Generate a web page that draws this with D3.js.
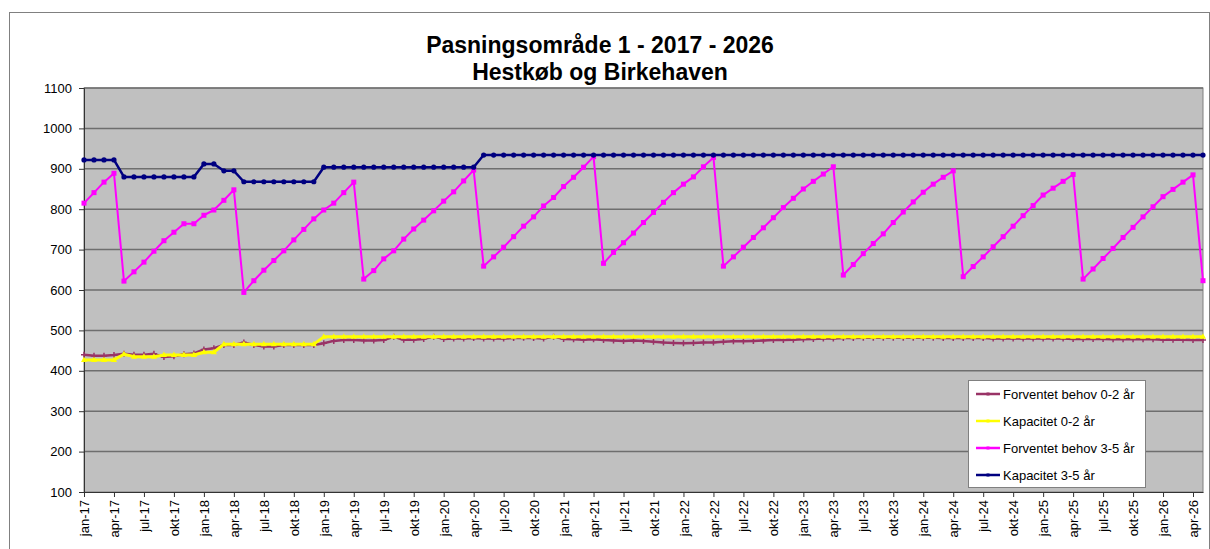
<!DOCTYPE html>
<html>
<head>
<meta charset="utf-8">
<script src="https://cdn.jsdelivr.net/npm/d3@7"></script>
<style>
  body { margin: 0; background: #fff; }
  svg { font-family: Arial, "Liberation Sans", sans-serif; }
</style>
</head>
<body>
<div id="chart"></div>
<script>
// month names used for category labels
var monthNames = ["jan","feb","mar","apr","maj","jun","jul","aug","sep","okt","nov","dec"];
var years = [17,18,19,20,21,22,23,24,25,26];

// categories jan-17 .. maj-26
var months = [];
years.forEach(function(y) {
  monthNames.forEach(function(m, i) {
    if (y < 26 || i < 5) months.push(m + "-" + y);
  });
});

var yTicks = [100,200,300,400,500,600,700,800,900,1000,1100];

// Forventet behov 0-2 år
var behov02 = [
  440,437,437,439,442,440,440,442,434,436,441,443,
  453,456,464,464,470,464,460,460,464,464,464,464,
  468,474,476,476,475,475,476,484,477,477,479,484,
  479,480,480,481,480,480,480,481,482,481,480,484,
  479,478,477,478,476,475,474,475,474,472,470,469,
  468,469,470,470,472,473,473,474,475,476,476,477,
  478,479,480,480,481,481,482,482,482,482,482,482,
  482,482,481,481,481,481,481,480,480,480,480,480,
  480,480,480,479,479,479,479,478,478,478,478,478,
  477,477,477,476,476
];

// Kapacitet 0-2 år
var kap02 = [
  427,427,427,427,441,435,435,435,439,439,439,439,
  446,446,466,466,466,466,466,466,466,466,466,466,
  484,484,484,484,484,484,484,484,484,484,484,484,
  484,484,484,484,484,484,484,484,484,484,484,484,
  484,484,484,484,484,484,484,484,484,484,484,484,
  484,484,484,484,484,484,484,484,484,484,484,484,
  484,484,484,484,484,484,484,484,484,484,484,484,
  484,484,484,484,484,484,484,484,484,484,484,484,
  484,484,484,484,484,484,484,484,484,484,484,484,
  484,484,484,484,484
];

// Forventet behov 3-5 år
var behov35 = [
  815,841,867,889,622,645,669,696,722,743,764,764,
  785,798,822,848,594,623,649,673,697,724,750,776,
  798,815,841,867,627,648,677,697,726,751,773,796,
  820,843,870,897,659,682,706,732,758,781,808,829,
  856,879,904,930,666,693,717,741,767,792,817,841,
  862,880,905,928,659,682,706,730,754,779,804,827,
  850,869,887,905,637,663,690,715,739,767,793,818,
  842,862,879,895,633,658,682,707,732,758,784,809,
  835,852,869,886,627,652,678,703,730,755,781,806,
  831,849,867,885,623
];

// Kapacitet 3-5 år
var kap35 = [
  922,922,922,922,880,880,880,880,880,880,880,880,
  912,912,895,895,868,868,868,868,868,868,868,868,
  904,904,904,904,904,904,904,904,904,904,904,904,
  904,904,904,904,934,934,934,934,934,934,934,934,
  934,934,934,934,934,934,934,934,934,934,934,934,
  934,934,934,934,934,934,934,934,934,934,934,934,
  934,934,934,934,934,934,934,934,934,934,934,934,
  934,934,934,934,934,934,934,934,934,934,934,934,
  934,934,934,934,934,934,934,934,934,934,934,934,
  934,934,934,934,934
];

var seriesNames = ["Forventet behov 0-2 år","Kapacitet 0-2 år","Forventet behov 3-5 år","Kapacitet 3-5 år"];

var svgWidth = 1210;
var svgHeight = 549;

var plot = { left: 84, top: 88, right: 1203, bottom: 492 };

var svg = d3.select("#chart")
  .append("svg")
  .attr("width", svgWidth)
  .attr("height", svgHeight);

// outer chart frame
svg.append("rect")
  .attr("x", 9.5).attr("y", 12.5)
  .attr("width", 1200).attr("height", 540)
  .attr("fill", "#fff")
  .attr("stroke", "#808080")
  .attr("stroke-width", 1);

// title
svg.append("text")
  .attr("x", 600).attr("y", 53)
  .attr("text-anchor", "middle")
  .attr("font-size", 23).attr("font-weight", "bold")
  .text("Pasningsområde 1 - 2017 - 2026");
svg.append("text")
  .attr("x", 600).attr("y", 80)
  .attr("text-anchor", "middle")
  .attr("font-size", 23).attr("font-weight", "bold")
  .text("Hestkøb og Birkehaven");

// scales
var xScale = d3.scalePoint()
  .domain(months)
  .range([plot.left, plot.right]);

var yScale = d3.scaleLinear()
  .domain([100, 1100])
  .range([plot.bottom, plot.top]);

// plot background
svg.append("rect")
  .attr("x", plot.left).attr("y", plot.top)
  .attr("width", plot.right - plot.left)
  .attr("height", plot.bottom - plot.top)
  .attr("fill", "#c0c0c0")
  .attr("stroke", "#808080")
  .attr("stroke-width", 1);

// gridlines
svg.append("g")
  .selectAll("line")
  .data(yTicks.slice(1))
  .enter()
  .append("line")
  .attr("x1", plot.left).attr("x2", plot.right)
  .attr("y1", d => yScale(d)).attr("y2", d => yScale(d))
  .attr("stroke", "#6e6e6e")
  .attr("stroke-width", 1.5);

// y axis
var leftAxis = d3.axisLeft(yScale)
  .tickValues(yTicks)
  .tickSize(5)
  .tickPadding(7)
  .tickFormat(d3.format("d"));

var yAxisG = svg.append("g")
  .attr("transform", `translate(${plot.left}, 0)`)
  .call(leftAxis);
yAxisG.selectAll("text").attr("font-size", 13).attr("fill", "#000").attr("font-family", "Arial, 'Liberation Sans', sans-serif");
yAxisG.selectAll("line, path").attr("stroke", "#333");

// x axis, label every 3rd month
var tickMonths = months.filter((m, i) => i % 3 === 0 && i < months.length - 1);
var bottomAxis = d3.axisBottom(xScale)
  .tickValues(tickMonths)
  .tickSize(5)
  .tickSizeOuter(0);

var xAxisG = svg.append("g")
  .attr("transform", `translate(0, ${plot.bottom})`)
  .call(bottomAxis);
xAxisG.selectAll("line, path").attr("stroke", "#333");
xAxisG.selectAll("text")
  .attr("font-size", 13)
  .attr("fill", "#000")
  .attr("font-family", "Arial, 'Liberation Sans', sans-serif")
  .attr("text-anchor", "end")
  .attr("transform", "rotate(-90)")
  .attr("x", -8)
  .attr("y", 0)
  .attr("dy", "0.35em");

var line = d3.line()
  .x((d, i) => xScale(months[i]))
  .y(d => yScale(d));

function drawSeries(values, color, width, marker) {
  var g = svg.append("g");
  g.append("path")
    .datum(values)
    .attr("d", line)
    .attr("fill", "none")
    .attr("stroke", color)
    .attr("stroke-width", width)
    .attr("stroke-linejoin", "round");
  marker(g.selectAll(null).data(values).enter(), color);
}

function circleMarker(sel, color) {
  sel.append("circle")
    .attr("cx", (d, i) => xScale(months[i]))
    .attr("cy", d => yScale(d))
    .attr("r", 2.6)
    .attr("fill", color);
}
function squareMarker(sel, color) {
  sel.append("rect")
    .attr("x", (d, i) => xScale(months[i]) - 2.5)
    .attr("y", d => yScale(d) - 2.5)
    .attr("width", 5).attr("height", 5)
    .attr("fill", color);
}
function plusMarker(sel, color) {
  sel.append("path")
    .attr("d", (d, i) => {
      var x = xScale(months[i]), y = yScale(d);
      return `M${x - 3},${y}L${x + 3},${y}M${x},${y - 3}L${x},${y + 3}`;
    })
    .attr("stroke", color)
    .attr("stroke-width", 1.5);
}
function triMarker(sel, color) {
  sel.append("path")
    .attr("d", (d, i) => {
      var x = xScale(months[i]), y = yScale(d);
      return `M${x},${y - 3.5}L${x + 3},${y + 2}L${x - 3},${y + 2}Z`;
    })
    .attr("fill", color);
}

drawSeries(behov02, "#993366", 2.5, plusMarker);
drawSeries(kap02, "#ffff00", 3, triMarker);
drawSeries(behov35, "#ff00ff", 2, squareMarker);
drawSeries(kap35, "#000080", 2.5, circleMarker);

// legend
var legend = svg.append("g");
legend.append("rect")
  .attr("x", 968.5).attr("y", 380.5)
  .attr("width", 177).attr("height", 107)
  .attr("fill", "#fff")
  .attr("stroke", "#808080");

var legendColors = ["#993366", "#ffff00", "#ff00ff", "#000080"];
var legendY = [394, 421, 448, 475];

seriesNames.forEach(function(name, i) {
  legend.append("line")
    .attr("x1", 976).attr("x2", 1000)
    .attr("y1", legendY[i]).attr("y2", legendY[i])
    .attr("stroke", legendColors[i])
    .attr("stroke-width", 2.5);
  legend.append("rect")
    .attr("x", 986.5).attr("y", legendY[i] - 1.5)
    .attr("width", 3).attr("height", 3)
    .attr("fill", legendColors[i]);
  legend.append("text")
    .attr("x", 1003).attr("y", legendY[i])
    .attr("dy", "0.35em")
    .attr("font-size", 13)
    .text(name);
});
</script>
</body>
</html>
